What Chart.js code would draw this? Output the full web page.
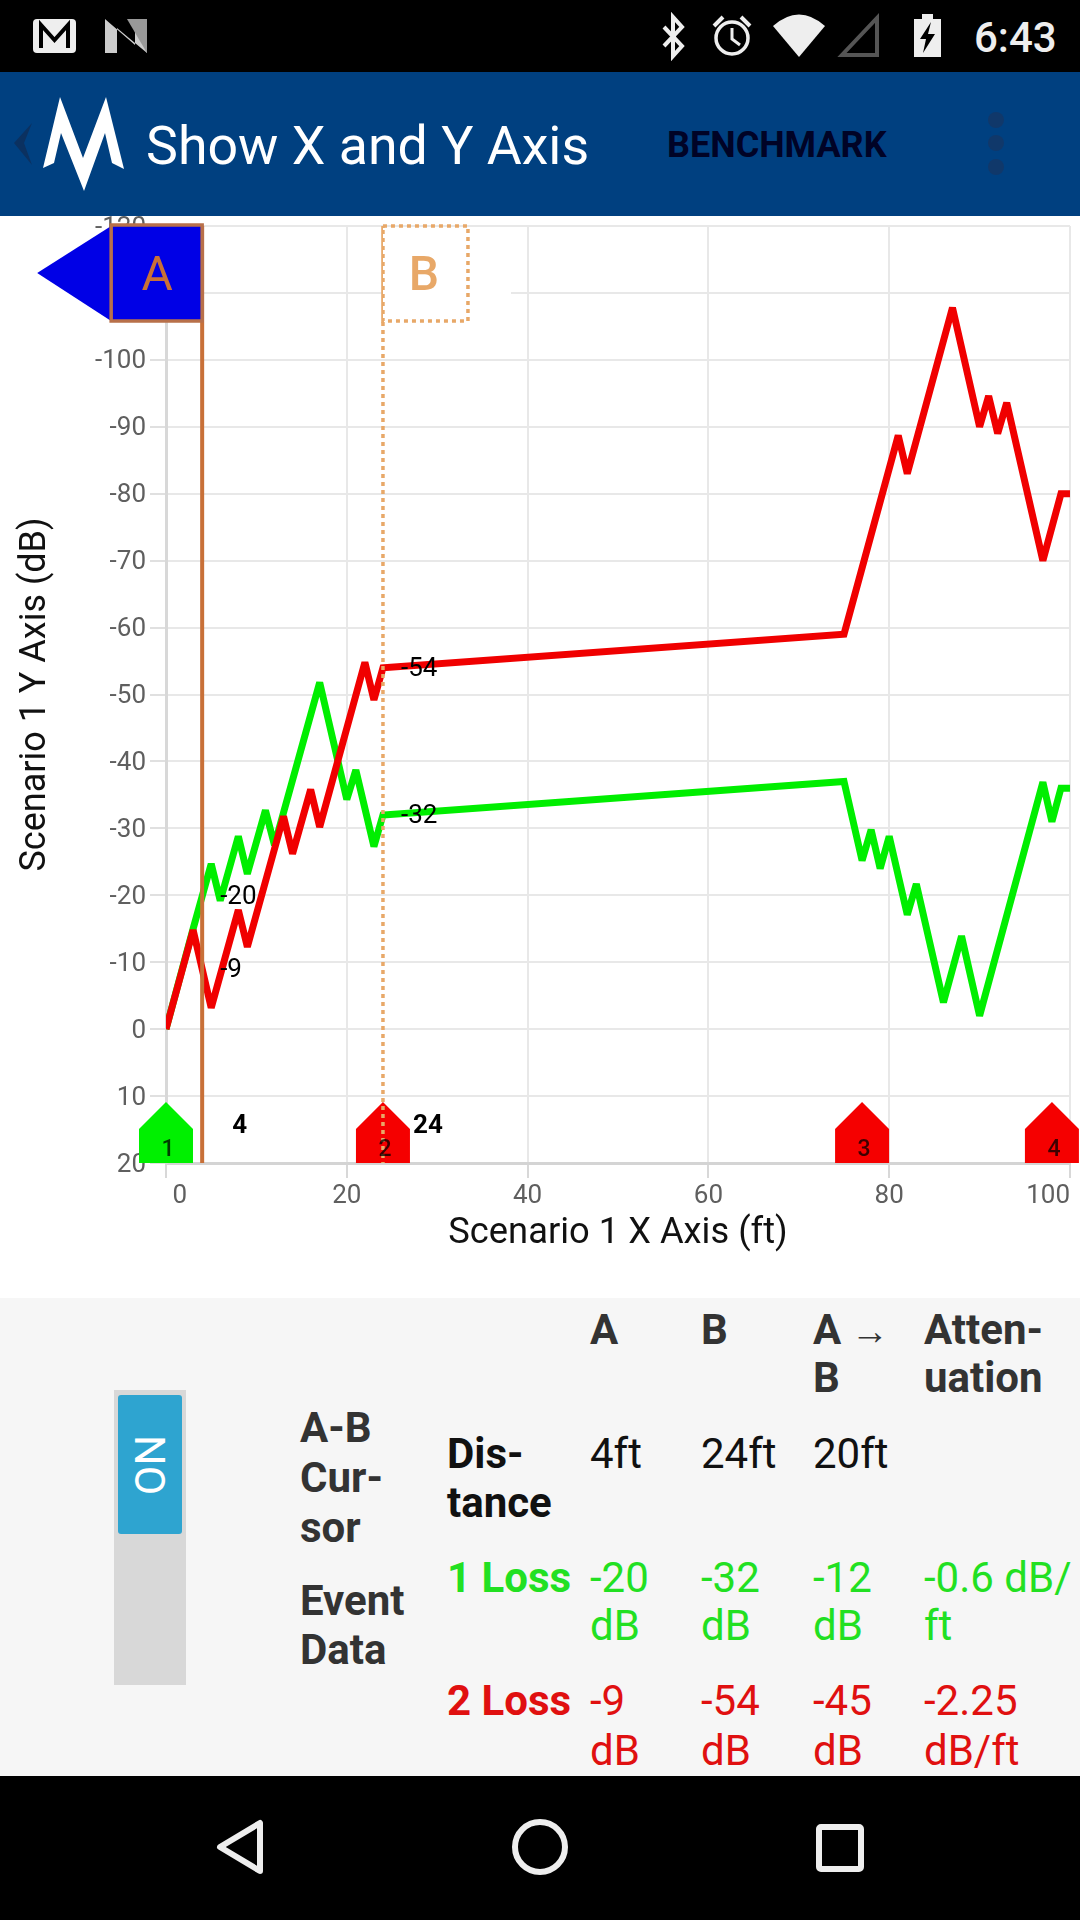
<!DOCTYPE html>
<html>
<head>
<meta charset="utf-8">
<title>Show X and Y Axis</title>
<script src="https://cdn.jsdelivr.net/npm/chart.js@4"></script>
<style>
  html, body { margin: 0; padding: 0; width: 1080px; height: 1920px; overflow: hidden; background: #fff; font-family: Roboto, sans-serif; }
  .bar { position: absolute; left: 0; width: 1080px; background: #000; }
  #status { top: 0; height: 72px; }
  #appbar { position: absolute; left: 0; top: 72px; width: 1080px; height: 144px; background: #004080; }
  #nav { top: 1776px; height: 144px; }
  #panel { position: absolute; left: 0; top: 1298px; width: 1080px; height: 478px; background: #f6f6f6; }
  #wrap { position: absolute; left: 0; top: 216px; width: 1080px; height: 1082px; }
  svg { position: absolute; left: 0; top: 0; }
  .t { position: absolute; white-space: nowrap; line-height: 49px; font-size: 42px; transform: translateY(-50%); }
  .b { font-weight: 700; }
  .h { font-weight: 700; color: #333; }
  .k { color: #111; }
  .g { color: #22e022; }
  .r { color: #e01010; }
</style>
</head>
<body>
<div class="bar" id="status">
  <svg width="1080" height="72">
    <rect x="33" y="19" width="43" height="34" rx="4" fill="#eee"/>
    <path d="M41 48V25L54.5 40L68 25V48" fill="none" stroke="#000" stroke-width="4"/>
    <path d="M105 53V19L135 45V19H147V53L147 53L117 28V53Z" fill="#ccc"/>
    <path d="M127 19L147 19V53Z" fill="#999"/>
    <path d="M664 27L682 46L673 56V17L682 27L664 46" fill="none" stroke="#eee" stroke-width="4"/>
    <circle cx="732" cy="38" r="16" fill="none" stroke="#eee" stroke-width="3.5"/>
    <path d="M732 28V39L740 45" fill="none" stroke="#eee" stroke-width="3"/>
    <path d="M714 26L723 17M750 26L741 17" stroke="#eee" stroke-width="4"/>
    <path d="M773 26Q799 3 825 26L799 57Z" fill="#eee"/>
    <path d="M877 18V55H842Z" fill="none" stroke="#555" stroke-width="4"/>
    <path d="M914 19H922V14H933V19H941V57H914Z" fill="#eee"/>
    <path d="M931 22L920 39H926L923 53L935 34H928Z" fill="#000"/>
  </svg>
  <div class="t" style="left:974px;top:37px;font-size:42px;color:#eee;font-weight:500">6:43</div>
</div>

<div id="appbar">
  <svg width="1080" height="144">
    <path d="M32 51L14 71L32 93L24 71Z" fill="#0b3160"/>
    <path d="M43 96L60 25L83 86L106 25L124 97L112 91L105 61L84 119L61 61L54 91Z" fill="#fff"/>
    <circle cx="996" cy="48" r="8" fill="#10386a"/>
    <circle cx="996" cy="71" r="8" fill="#10386a"/>
    <circle cx="996" cy="95" r="8" fill="#10386a"/>
  </svg>
  <div class="t" style="left:146px;top:74px;font-size:53.7px;color:#fff;line-height:60px">Show X and Y Axis</div>
  <div class="t" style="left:667px;top:73px;font-size:36px;color:#000326;font-weight:700;line-height:40px">BENCHMARK</div>
</div>

<div id="wrap"><canvas id="scenario" width="1080" height="1082"></canvas></div>

<div id="panel"></div>
<div style="position:absolute;left:114px;top:1390px;width:72px;height:295px;background:#d8d8d8"></div>
<div style="position:absolute;left:118px;top:1395px;width:64px;height:139px;background:#2ea4d0;border-radius:3px"></div>
<div class="t" style="left:150px;top:1465px;font-size:43px;color:#fff;transform:translate(-50%,-50%) rotate(-90deg)">ON</div>

<div class="t h" style="left:590px;top:1329px">A</div>
<div class="t h" style="left:701px;top:1329px">B</div>
<div class="t h" style="left:813px;top:1329px">A<span style="font-weight:400;font-size:38px;line-height:0"> →</span></div>
<div class="t h" style="left:813px;top:1377px">B</div>
<div class="t h" style="left:924px;top:1329px">Atten-</div>
<div class="t h" style="left:924px;top:1377px">uation</div>

<div class="t h" style="left:300px;top:1427px">A-B</div>
<div class="t h" style="left:300px;top:1477px">Cur-</div>
<div class="t h" style="left:300px;top:1527px">sor</div>
<div class="t h" style="left:300px;top:1600px">Event</div>
<div class="t h" style="left:300px;top:1649px">Data</div>

<div class="t b k" style="left:447px;top:1453px">Dis-</div>
<div class="t b k" style="left:447px;top:1502px">tance</div>
<div class="t k" style="left:590px;top:1453px">4ft</div>
<div class="t k" style="left:701px;top:1453px">24ft</div>
<div class="t k" style="left:813px;top:1453px">20ft</div>

<div class="t b g" style="left:447px;top:1577px">1 Loss</div>
<div class="t g" style="left:590px;top:1577px">-20</div>
<div class="t g" style="left:590px;top:1625px">dB</div>
<div class="t g" style="left:701px;top:1577px">-32</div>
<div class="t g" style="left:701px;top:1625px">dB</div>
<div class="t g" style="left:813px;top:1577px">-12</div>
<div class="t g" style="left:813px;top:1625px">dB</div>
<div class="t g" style="left:924px;top:1577px">-0.6 dB/</div>
<div class="t g" style="left:924px;top:1625px">ft</div>

<div class="t b r" style="left:447px;top:1700px">2 Loss</div>
<div class="t r" style="left:590px;top:1700px">-9</div>
<div class="t r" style="left:590px;top:1750px">dB</div>
<div class="t r" style="left:701px;top:1700px">-54</div>
<div class="t r" style="left:701px;top:1750px">dB</div>
<div class="t r" style="left:813px;top:1700px">-45</div>
<div class="t r" style="left:813px;top:1750px">dB</div>
<div class="t r" style="left:924px;top:1700px">-2.25</div>
<div class="t r" style="left:924px;top:1750px">dB/ft</div>

<div class="bar" id="nav">
  <svg width="1080" height="144">
    <path d="M260 47V95L220 71Z" fill="none" stroke="#eee" stroke-width="6" stroke-linejoin="round"/>
    <circle cx="540" cy="71" r="25" fill="none" stroke="#eee" stroke-width="6"/>
    <rect x="819" y="51" width="42" height="42" rx="2" fill="none" stroke="#eee" stroke-width="6"/>
  </svg>
</div>

<script>
// Trazas
var series1X = [0, 3, 5, 6, 8, 9, 11, 12, 17, 20, 21, 23, 24, 75, 77, 78, 79, 80, 82, 83, 86, 88, 90, 97, 98, 99, 100];
var series1Y = [0, -15, -24.7, -19.2, -28.8, -23.2, -32.7, -27.5, -51.8, -34.3, -38.7, -27.3, -32, -37, -25.2, -29.8, -24, -28.8, -17.1, -21.7, -4, -13.9, -2, -36.9, -31, -36, -36];
var series2X = [0, 3, 5, 8, 9, 13, 14, 16, 17, 22, 23, 24, 75, 81, 82, 87, 90, 91, 92, 93, 97, 99, 100];
var series2Y = [0, -14.8, -3.2, -17.8, -12.3, -31.8, -26.2, -35.8, -30.2, -54.8, -49.2, -54, -59, -88.7, -83, -107.8, -90, -94.6, -89, -93.6, -70, -80, -80];

// Cursores y eventos
var cursorNames = ['A', 'B'];
var cursorX = [4, 24];
var cursorLoss1 = [-20, -32];
var cursorLoss2 = [-9, -54];
var eventX = [0, 24, 77, 98];
var eventColors = ['#00f000', '#f50000', '#f50000', '#f50000'];

function toPoints(xs, ys) {
    return xs.map(function (x, i) { return { x: x, y: ys[i] }; });
}

function noPadding(scale) {
    scale.paddingTop = 0;
    scale.paddingBottom = 0;
    scale.paddingLeft = 0;
    scale.paddingRight = 0;
}

var overlay = {
    id: 'overlay',
    afterLayout: function (chart) {
        // Las etiquetas del eje Y van algo mas abajo
        chart.scales.y.getLabelItems(chart.chartArea).forEach(function (item) {
            item.options.translation[1] += 2;
        });
    },
    beforeDatasetsDraw: function (chart) {
        chart.ctx.miterLimit = 3;
    },
    afterDraw: function (chart) {
        var c = chart.ctx;
        var sx = chart.scales.x;
        var sy = chart.scales.y;
        var top = chart.chartArea.top;
        var bottom = chart.chartArea.bottom;
        c.save();

        // Marcadores de evento
        eventX.forEach(function (ev, i) {
            var px = sx.getPixelForValue(ev);
            c.fillStyle = eventColors[i];
            c.beginPath();
            c.moveTo(px - 27, bottom);
            c.lineTo(px - 27, bottom - 34);
            c.lineTo(px, bottom - 61);
            c.lineTo(px + 27, bottom - 34);
            c.lineTo(px + 27, bottom);
            c.closePath();
            c.fill();
        });

        // Cursor A
        var ax = sx.getPixelForValue(cursorX[0]);
        c.strokeStyle = '#c87038';
        c.lineWidth = 4;
        c.beginPath();
        c.moveTo(ax, top);
        c.lineTo(ax, bottom);
        c.stroke();

        // Cursor B
        var bx = sx.getPixelForValue(cursorX[1]);
        c.strokeStyle = '#e8a868';
        c.lineWidth = 3.5;
        c.setLineDash([4, 4]);
        c.beginPath();
        c.moveTo(bx, top);
        c.lineTo(bx, bottom);
        c.stroke();

        // Bandera B
        c.fillStyle = '#fff';
        c.fillRect(bx, top + 2, 128, 93);
        c.strokeRect(bx, top, 85, 95);
        c.setLineDash([]);

        // Bandera A
        c.fillStyle = '#0000e6';
        c.beginPath();
        c.moveTo(ax - 165, top + 47);
        c.lineTo(ax - 91, top);
        c.lineTo(ax - 91, top + 95);
        c.closePath();
        c.fill();
        c.fillRect(ax - 91, top - 1, 91, 96);
        c.strokeStyle = '#b8704a';
        c.lineWidth = 3.5;
        c.strokeRect(ax - 91, top - 1, 91, 96);

        c.textAlign = 'center';
        c.textBaseline = 'middle';
        c.font = '48px Roboto';
        c.fillStyle = '#c87038';
        c.fillText(cursorNames[0], ax - 45, top + 52);
        c.font = '500 48px Roboto';
        c.fillStyle = '#e8a868';
        c.fillText(cursorNames[1], bx + 41, top + 52);

        // Numero de cada evento
        c.font = '500 23px Roboto';
        c.fillStyle = 'rgba(0,0,0,0.75)';
        eventX.forEach(function (ev, i) {
            c.fillText(String(i + 1), sx.getPixelForValue(ev) + 2, bottom - 13);
        });

        // Valores en los cursores
        c.textAlign = 'left';
        c.fillStyle = '#000';
        c.font = '26px Roboto';
        cursorX.forEach(function (cx, i) {
            var px = sx.getPixelForValue(cx) + 18;
            c.fillText(String(cursorLoss1[i]), px, sy.getPixelForValue(cursorLoss1[i]) + 2);
            c.fillText(String(cursorLoss2[i]), px, sy.getPixelForValue(cursorLoss2[i]) + 2);
        });
        c.font = 'bold 26px Roboto';
        cursorX.forEach(function (cx, i) {
            c.fillText(String(cx), sx.getPixelForValue(cx) + 30, bottom - 37);
        });
        c.restore();
    }
};

var ctx = document.getElementById('scenario').getContext('2d');
var myChart = new Chart(ctx, {
    type: 'line',
    data: {
        datasets: [{
            data: toPoints(series2X, series2Y),
            borderColor: '#f00000',
            order: 1
        }, {
            data: toPoints(series1X, series1Y),
            borderColor: '#00ee00',
            order: 2
        }]
    },
    options: {
        responsive: false,
        animation: false,
        devicePixelRatio: 1,
        layout: { padding: { top: 10, right: 10, left: 0, bottom: 0 } },
        elements: {
            line: { borderWidth: 7, tension: 0, borderJoinStyle: 'miter', borderCapStyle: 'butt' },
            point: { radius: 0 }
        },
        plugins: {
            legend: { display: false },
            tooltip: { enabled: false }
        },
        scales: {
            x: {
                type: 'linear',
                min: 0,
                max: 100,
                afterFit: function (scale) { scale.height = 135; noPadding(scale); },
                grid: { color: '#e8e8e8', lineWidth: 2, tickLength: 15, tickColor: '#d8d8d8' },
                border: { color: '#d4d4d4', width: 3 },
                ticks: {
                    stepSize: 20,
                    align: 'inner',
                    maxRotation: 0,
                    padding: 3,
                    color: '#5f5f5f',
                    font: { family: 'Roboto', size: 26 },
                    callback: function (v) { return v === 0 ? ' ' + v : String(v); }
                },
                title: {
                    display: true,
                    text: 'Scenario 1 X Axis (ft)',
                    color: '#111',
                    font: { family: 'Roboto', size: 36.3 },
                    padding: { top: 0, bottom: 42 }
                }
            },
            y: {
                type: 'linear',
                reverse: true,
                min: -120,
                max: 20,
                afterFit: function (scale) { scale.width = 166; noPadding(scale); },
                grid: { color: '#e8e8e8', lineWidth: 2, tickLength: 16, tickColor: '#e0e0e0' },
                border: { color: '#d8d8d8', width: 3 },
                ticks: {
                    stepSize: 10,
                    padding: 4,
                    color: '#5f5f5f',
                    font: { family: 'Roboto', size: 26 }
                },
                title: {
                    display: true,
                    text: 'Scenario 1 Y Axis (dB)',
                    color: '#111',
                    font: { family: 'Roboto', size: 36 },
                    padding: { top: 14, bottom: 0 }
                }
            }
        }
    },
    plugins: [overlay]
});
</script>
</body>
</html>
